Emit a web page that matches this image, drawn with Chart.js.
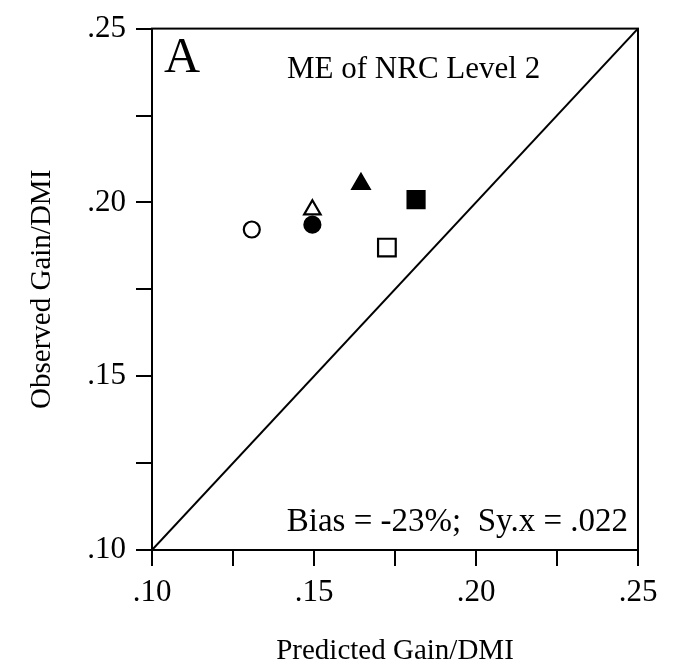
<!DOCTYPE html>
<html>
<head>
<meta charset="utf-8">
<script src="https://cdn.jsdelivr.net/npm/chart.js@4.4.1/dist/chart.umd.min.js"></script>
<style>
  body { margin: 0; background: #fff; }
  canvas { display: block; }
</style>
</head>
<body>
<canvas id="chart" width="683" height="663"></canvas>
<script>
// Data (Predicted vs Observed Gain/DMI)
const predicted = [0.1308, 0.1495, 0.1495, 0.1645, 0.1815, 0.1725];
const observed = [0.1922, 0.1936, 0.1979, 0.2053, 0.2008, 0.1870];
const markerStyles = ['circle', 'circle', 'triangle', 'triangle', 'rect', 'rect'];
const markerFilled = [false, true, false, true, true, false];
const markerRadius = [8, 8, 9.5, 10, 12, 12.5];
const lineX = [0.10, 0.25];
const lineY = [0.10, 0.25];
const axisMin = 0.10, axisMax = 0.25, tickStep = 0.025;

const serif = "'Liberation Serif', 'Times New Roman', serif";

// Build datasets
const pointSets = predicted.map((x, i) => ({
    type: 'scatter',
    data: [{ x: x, y: observed[i] }],
    pointStyle: markerStyles[i],
    pointRadius: markerRadius[i],
    pointHoverRadius: markerRadius[i],
    backgroundColor: markerFilled[i] ? '#000' : '#fff',
    borderColor: '#000',
    pointBorderWidth: 2.2,
    order: i
}));

const identityLine = {
    type: 'line',
    data: lineX.map((x, i) => ({ x: x, y: lineY[i] })),
    borderColor: '#000',
    borderWidth: 2,
    pointRadius: 0,
    fill: false,
    order: 10
};

function tickLabel(value) {
    const k = Math.round(value * 1000);
    if (k % 50 !== 0) return '';
    return '.' + (k / 10).toFixed(0);
}

// Box around plot area plus text annotations
const framePlugin = {
    id: 'frame',
    afterDraw(chart) {
        const { ctx, chartArea: a } = chart;
        ctx.save();
        ctx.strokeStyle = '#000';
        ctx.lineWidth = 2;
        ctx.strokeRect(a.left, a.top, a.right - a.left, a.bottom - a.top);

        ctx.fillStyle = '#000';
        ctx.textBaseline = 'alphabetic';
        ctx.textAlign = 'left';
        ctx.font = '50px ' + serif;
        ctx.fillText('A', 164, 72);
        ctx.font = '31px ' + serif;
        ctx.fillText('ME of NRC Level 2', 287, 78);
        ctx.textAlign = 'right';
        ctx.font = '33px ' + serif;
        ctx.fillText('Bias = -23%;  Sy.x = .022', 628, 531);
        ctx.restore();
    }
};

const ctx = document.getElementById('chart').getContext('2d');
const chart = new Chart(ctx, {
    data: { datasets: [identityLine].concat(pointSets) },
    options: {
        responsive: false,
        animation: false,
        devicePixelRatio: 1,
        layout: { padding: { top: 24, right: 45, left: 0, bottom: 0 } },
        plugins: {
            legend: { display: false },
            tooltip: { enabled: false }
        },
        scales: {
            x: {
                type: 'linear',
                min: axisMin,
                max: axisMax,
                afterFit: scale => { scale.height = 113; },
                ticks: {
                    stepSize: tickStep,
                    autoSkip: false,
                    maxRotation: 0,
                    padding: 8,
                    color: '#000',
                    font: { family: serif, size: 31 },
                    callback: tickLabel
                },
                grid: {
                    drawOnChartArea: false,
                    drawTicks: true,
                    tickLength: 16,
                    color: '#000',
                    lineWidth: 2
                },
                border: { display: true, color: '#000', width: 2 },
                title: {
                    display: true,
                    text: 'Predicted Gain/DMI',
                    color: '#000',
                    font: { family: serif, size: 29, lineHeight: 1 },
                    padding: { top: 0, bottom: -3 }
                }
            },
            y: {
                type: 'linear',
                min: axisMin,
                max: axisMax,
                afterFit: scale => { scale.width = 152; },
                ticks: {
                    stepSize: tickStep,
                    autoSkip: false,
                    padding: 10,
                    color: '#000',
                    font: { family: serif, size: 31 },
                    callback: tickLabel
                },
                grid: {
                    drawOnChartArea: false,
                    drawTicks: true,
                    tickLength: 16,
                    color: '#000',
                    lineWidth: 2
                },
                border: { display: true, color: '#000', width: 2 },
                title: {
                    display: true,
                    text: 'Observed Gain/DMI',
                    color: '#000',
                    font: { family: serif, size: 29, lineHeight: 1 },
                    padding: { top: 28, bottom: 0 }
                }
            }
        }
    },
    plugins: [framePlugin]
});
</script>
</body>
</html>
